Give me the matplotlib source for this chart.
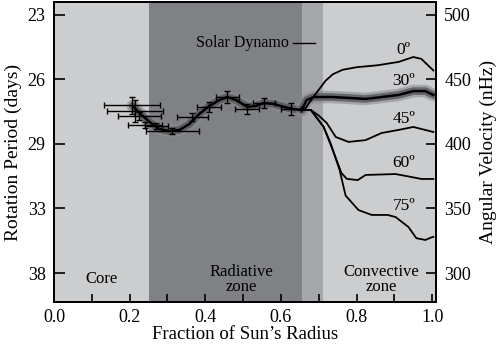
import matplotlib
matplotlib.use("Agg")
import matplotlib.pyplot as plt
from matplotlib.ticker import MultipleLocator

plt.rcParams['font.family'] = ['Liberation Serif', 'DejaVu Serif']

# Zone boundaries (fraction of solar radius)
core_edge = 0.25
radiative_edge = 0.655
tacho_edge = 0.71

# Helioseismic inversion points: radius, angular velocity (nHz), errors
obs_r = [0.205, 0.213, 0.226, 0.240, 0.271, 0.313, 0.366, 0.410, 0.458, 0.510, 0.555, 0.626]
obs_v = [430.2, 425.6, 421.7, 414.7, 414.0, 410.0, 421.0, 428.7, 436.4, 427.1, 431.8, 427.1]
obs_rerr = [0.074, 0.074, 0.058, 0.045, 0.030, 0.070, 0.042, 0.032, 0.030, 0.032, 0.029, 0.026]
obs_verr = [6.6, 8.5, 3.0, 2.5, 2.5, 2.5, 3.0, 4.0, 4.5, 4.0, 4.0, 5.0]

# Mean interior rotation profile
core_r = [0.208, 0.226, 0.253, 0.279, 0.305, 0.332, 0.358, 0.384, 0.411, 0.437, 0.458,
          0.482, 0.511, 0.534, 0.555, 0.582, 0.608, 0.634, 0.655]
core_v = [429.5, 424.0, 417.0, 411.6, 410.0, 410.9, 415.5, 423.3, 429.5, 434.0, 436.4,
          434.0, 428.7, 429.5, 431.8, 431.0, 428.7, 427.0, 426.4]

# Convection-zone profiles by latitude
lat30_r = [0.655, 0.668, 0.687, 0.734, 0.779, 0.824, 0.866, 0.911, 0.950, 0.982, 1.003]
lat30_v = [426.4, 434.1, 436.4, 436.4, 435.7, 434.9, 436.4, 438.0, 441.0, 441.0, 438.0]

lat0_r = [0.655, 0.666, 0.682, 0.700, 0.718, 0.737, 0.763, 0.800, 0.855, 0.911, 0.950, 0.971, 1.003]
lat0_v = [426.4, 428.0, 435.0, 442.0, 449.0, 454.0, 457.5, 459.5, 461.0, 463.6, 467.4, 466.0, 457.0]

lat45_r = [0.655, 0.679, 0.700, 0.721, 0.745, 0.779, 0.824, 0.866, 0.911, 0.950, 1.003]
lat45_v = [426.4, 426.4, 422.0, 416.3, 405.4, 401.6, 403.0, 408.5, 410.9, 413.2, 409.3]

lat60_r = [0.655, 0.679, 0.713, 0.737, 0.760, 0.774, 0.803, 0.824, 0.903, 0.945, 0.971, 1.003]
lat60_v = [426.4, 426.4, 413.2, 395.3, 377.5, 373.0, 372.0, 376.0, 376.7, 374.4, 372.9, 372.9]

lat75_r = [0.655, 0.679, 0.713, 0.732, 0.755, 0.771, 0.805, 0.840, 0.882, 0.903, 0.937, 0.958,
           0.982, 0.997, 1.003]
lat75_v = [426.4, 426.4, 413.2, 400.0, 380.0, 360.0, 348.8, 345.0, 345.0, 343.4, 335.7, 327.0,
           325.6, 327.5, 328.0]

lat_labels = ['0º', '30º', '45º', '60º', '75º']
lat_label_v = [473.0, 448.5, 419.0, 385.0, 352.0]

nhz_ticks = [300, 350, 400, 450, 500]
period_labels = ['38', '33', '29', '26', '23']

fig = plt.figure(figsize=(5.0, 3.44), dpi=100)
ax = fig.add_axes([0.108, 0.122, 0.764, 0.872])
ax.set_xlim(0, 1.01)
ax.set_ylim(277.5, 510)

# Background zones
ax.axvspan(0, core_edge, color='#cccdcf', lw=0, zorder=0)
ax.axvspan(core_edge, radiative_edge, color='#7f8184', lw=0, zorder=0)
ax.axvspan(radiative_edge, tacho_edge, color='#a5a7aa', lw=0, zorder=0)
ax.axvspan(tacho_edge, 1.01, color='#cccdcf', lw=0, zorder=0)

# Shaded uncertainty band beneath the mean profile
for r, v in [(core_r, core_v), (lat30_r, lat30_v)]:
    ax.plot(r, v, color='#8a8c8f', lw=9, alpha=0.6, solid_capstyle='round', zorder=1)
    ax.plot(r, v, color='#55575a', lw=5.5, alpha=0.8, solid_capstyle='round', zorder=1)

for r, v in [(lat0_r, lat0_v), (lat45_r, lat45_v), (lat60_r, lat60_v), (lat75_r, lat75_v)]:
    ax.plot(r, v, color='black', lw=1.3, solid_joinstyle='round', zorder=3)
ax.plot(core_r, core_v, color='black', lw=1.8, solid_joinstyle='round', zorder=3)
ax.plot(lat30_r, lat30_v, color='black', lw=1.8, solid_joinstyle='round', zorder=3)

ax.errorbar(obs_r, obs_v, xerr=obs_rerr, yerr=obs_verr, fmt='none', ecolor='black',
            elinewidth=1.0, capsize=2.5, capthick=1.0, zorder=4)

for lab, v in zip(lat_labels, lat_label_v):
    ax.text(0.925, v, lab, fontsize=12.5, ha='center', va='center', zorder=5)

ax.text(0.62, 478.0, 'Solar Dynamo', fontsize=11.5, ha='right', va='center')
ax.plot([0.632, 0.69], [478.0, 478.0], color='black', lw=1.0)

ax.text(0.125, 295.5, 'Core', fontsize=12, ha='center', va='center')
ax.text(0.495, 295.0, 'Radiative\nzone', fontsize=12, ha='center', va='center', linespacing=0.9)
ax.text(0.865, 295.0, 'Convective\nzone', fontsize=12, ha='center', va='center', linespacing=0.9)

ax.xaxis.set_major_locator(MultipleLocator(0.2))
ax.xaxis.set_minor_locator(MultipleLocator(0.1))
ax.xaxis.set_major_formatter(matplotlib.ticker.FormatStrFormatter('%.1f'))
ax.set_yticks(nhz_ticks)
ax.set_yticklabels(period_labels)
ax.tick_params(axis='both', which='both', direction='in', labelsize=13, width=1.2)
ax.tick_params(axis='x', which='both', length=6, pad=5)
ax.tick_params(axis='y', length=8, pad=6)

ax2 = ax.twinx()
ax2.set_ylim(ax.get_ylim())
ax2.set_yticks(nhz_ticks)
ax2.set_yticklabels([str(t) for t in nhz_ticks])
ax2.tick_params(axis='y', direction='in', length=7, width=1.2, labelsize=13, pad=6)

for a in (ax, ax2):
    for s in a.spines.values():
        s.set_linewidth(1.3)

ax.set_xlabel("Fraction of Sun’s Radius", fontsize=13.5, labelpad=0)
ax.set_ylabel('Rotation Period (days)', fontsize=14, labelpad=4)
ax2.set_ylabel('Angular Velocity (nHz)', fontsize=14, labelpad=6)

fig.savefig('out.png', dpi=100)
